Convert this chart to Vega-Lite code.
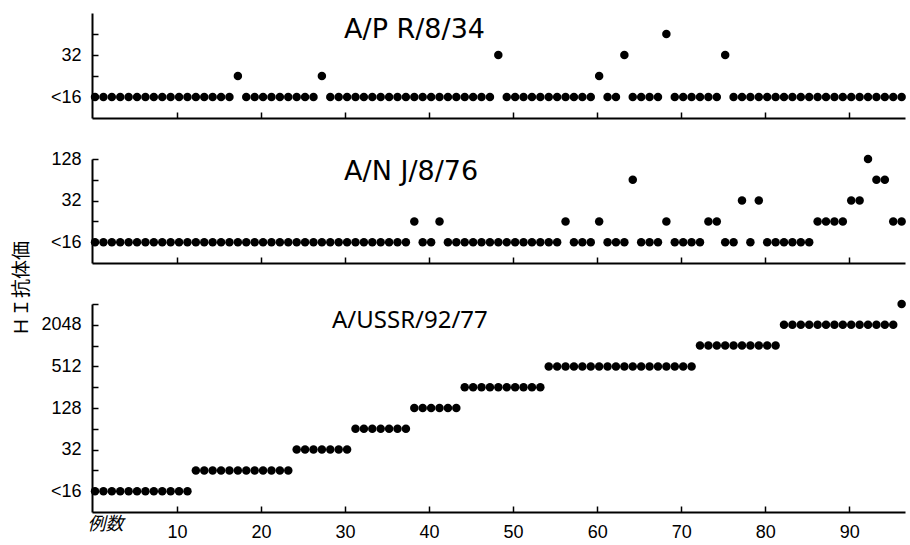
{
  "$schema": "https://vega.github.io/schema/vega-lite/v6.json",
  "background": "white",
  "padding": {"left": 12, "top": 13, "right": 2, "bottom": 4},
  "bounds": "flush",
  "spacing": 41,
  "resolve": {"scale": {"y": "independent"}},
  "data": {"values": [
    {"n":1,"pr":8,"nj":8,"ussr":8},{"n":2,"pr":8,"nj":8,"ussr":8},{"n":3,"pr":8,"nj":8,"ussr":8},{"n":4,"pr":8,"nj":8,"ussr":8},
    {"n":5,"pr":8,"nj":8,"ussr":8},{"n":6,"pr":8,"nj":8,"ussr":8},{"n":7,"pr":8,"nj":8,"ussr":8},{"n":8,"pr":8,"nj":8,"ussr":8},
    {"n":9,"pr":8,"nj":8,"ussr":8},{"n":10,"pr":8,"nj":8,"ussr":8},{"n":11,"pr":8,"nj":8,"ussr":8},{"n":12,"pr":8,"nj":8,"ussr":8},
    {"n":13,"pr":8,"nj":8,"ussr":16},{"n":14,"pr":8,"nj":8,"ussr":16},{"n":15,"pr":8,"nj":8,"ussr":16},{"n":16,"pr":8,"nj":8,"ussr":16},
    {"n":17,"pr":8,"nj":8,"ussr":16},{"n":18,"pr":16,"nj":8,"ussr":16},{"n":19,"pr":8,"nj":8,"ussr":16},{"n":20,"pr":8,"nj":8,"ussr":16},
    {"n":21,"pr":8,"nj":8,"ussr":16},{"n":22,"pr":8,"nj":8,"ussr":16},{"n":23,"pr":8,"nj":8,"ussr":16},{"n":24,"pr":8,"nj":8,"ussr":16},
    {"n":25,"pr":8,"nj":8,"ussr":32},{"n":26,"pr":8,"nj":8,"ussr":32},{"n":27,"pr":8,"nj":8,"ussr":32},{"n":28,"pr":16,"nj":8,"ussr":32},
    {"n":29,"pr":8,"nj":8,"ussr":32},{"n":30,"pr":8,"nj":8,"ussr":32},{"n":31,"pr":8,"nj":8,"ussr":32},{"n":32,"pr":8,"nj":8,"ussr":64},
    {"n":33,"pr":8,"nj":8,"ussr":64},{"n":34,"pr":8,"nj":8,"ussr":64},{"n":35,"pr":8,"nj":8,"ussr":64},{"n":36,"pr":8,"nj":8,"ussr":64},
    {"n":37,"pr":8,"nj":8,"ussr":64},{"n":38,"pr":8,"nj":8,"ussr":64},{"n":39,"pr":8,"nj":16,"ussr":128},{"n":40,"pr":8,"nj":8,"ussr":128},
    {"n":41,"pr":8,"nj":8,"ussr":128},{"n":42,"pr":8,"nj":16,"ussr":128},{"n":43,"pr":8,"nj":8,"ussr":128},{"n":44,"pr":8,"nj":8,"ussr":128},
    {"n":45,"pr":8,"nj":8,"ussr":256},{"n":46,"pr":8,"nj":8,"ussr":256},{"n":47,"pr":8,"nj":8,"ussr":256},{"n":48,"pr":8,"nj":8,"ussr":256},
    {"n":49,"pr":32,"nj":8,"ussr":256},{"n":50,"pr":8,"nj":8,"ussr":256},{"n":51,"pr":8,"nj":8,"ussr":256},{"n":52,"pr":8,"nj":8,"ussr":256},
    {"n":53,"pr":8,"nj":8,"ussr":256},{"n":54,"pr":8,"nj":8,"ussr":256},{"n":55,"pr":8,"nj":8,"ussr":512},{"n":56,"pr":8,"nj":8,"ussr":512},
    {"n":57,"pr":8,"nj":16,"ussr":512},{"n":58,"pr":8,"nj":8,"ussr":512},{"n":59,"pr":8,"nj":8,"ussr":512},{"n":60,"pr":8,"nj":8,"ussr":512},
    {"n":61,"pr":16,"nj":16,"ussr":512},{"n":62,"pr":8,"nj":8,"ussr":512},{"n":63,"pr":8,"nj":8,"ussr":512},{"n":64,"pr":32,"nj":8,"ussr":512},
    {"n":65,"pr":8,"nj":64,"ussr":512},{"n":66,"pr":8,"nj":8,"ussr":512},{"n":67,"pr":8,"nj":8,"ussr":512},{"n":68,"pr":8,"nj":8,"ussr":512},
    {"n":69,"pr":64,"nj":16,"ussr":512},{"n":70,"pr":8,"nj":8,"ussr":512},{"n":71,"pr":8,"nj":8,"ussr":512},{"n":72,"pr":8,"nj":8,"ussr":512},
    {"n":73,"pr":8,"nj":8,"ussr":1024},{"n":74,"pr":8,"nj":16,"ussr":1024},{"n":75,"pr":8,"nj":16,"ussr":1024},{"n":76,"pr":32,"nj":8,"ussr":1024},
    {"n":77,"pr":8,"nj":8,"ussr":1024},{"n":78,"pr":8,"nj":32,"ussr":1024},{"n":79,"pr":8,"nj":8,"ussr":1024},{"n":80,"pr":8,"nj":32,"ussr":1024},
    {"n":81,"pr":8,"nj":8,"ussr":1024},{"n":82,"pr":8,"nj":8,"ussr":1024},{"n":83,"pr":8,"nj":8,"ussr":2048},{"n":84,"pr":8,"nj":8,"ussr":2048},
    {"n":85,"pr":8,"nj":8,"ussr":2048},{"n":86,"pr":8,"nj":8,"ussr":2048},{"n":87,"pr":8,"nj":16,"ussr":2048},{"n":88,"pr":8,"nj":16,"ussr":2048},
    {"n":89,"pr":8,"nj":16,"ussr":2048},{"n":90,"pr":8,"nj":16,"ussr":2048},{"n":91,"pr":8,"nj":32,"ussr":2048},{"n":92,"pr":8,"nj":32,"ussr":2048},
    {"n":93,"pr":8,"nj":128,"ussr":2048},{"n":94,"pr":8,"nj":64,"ussr":2048},{"n":95,"pr":8,"nj":64,"ussr":2048},{"n":96,"pr":8,"nj":16,"ussr":2048},
    {"n":97,"pr":8,"nj":16,"ussr":4096}
  ]},
  "config": {
    "view": {"stroke": null},
    "axis": {
      "grid": false,
      "domainColor": "black",
      "domainWidth": 2,
      "tickColor": "black",
      "tickWidth": 1.5,
      "tickSize": -6,
      "labelColor": "black",
      "labelFont": "Liberation Sans",
      "labelFontSize": 18,
      "titleColor": "black"
    },
    "text": {"font": "DejaVu Sans", "fontSize": 27, "color": "black", "align": "left", "baseline": "alphabetic"}
  },
  "vconcat": [
    {
      "width": 813,
      "height": 105,
      "layer": [
        {
          "mark": {"type": "circle", "size": 72, "color": "black", "opacity": 1},
          "encoding": {
            "x": {"field": "n", "type": "quantitative", "scale": {"domain": [0.64, 97.4], "nice": false, "zero": false},
                  "axis": {"values": [10.76, 20.76, 30.76, 40.76, 50.76, 60.76, 70.76, 80.76, 90.76], "labels": false, "title": null}},
            "y": {"field": "pr", "type": "quantitative", "scale": {"type": "log", "base": 2, "domain": [4, 128], "nice": false},
                  "axis": {"values": [8, 16, 32, 64], "labelPadding": 17, "title": null,
                           "labelExpr": "datum.value == 8 ? '<16' : (datum.value == 32 || datum.value == 128 || datum.value == 512 || datum.value == 2048) ? '' + datum.value : ''"}}
          }
        },
        {
          "data": {"values": [{"label": "A/P R/8/34"}]},
          "mark": {"type": "text"},
          "encoding": {
            "x": {"datum": 30.64, "type": "quantitative"},
            "y": {"datum": 56, "type": "quantitative"},
            "text": {"field": "label"}
          }
        }
      ]
    },
    {
      "width": 813,
      "height": 104,
      "layer": [
        {
          "mark": {"type": "circle", "size": 72, "color": "black", "opacity": 1},
          "encoding": {
            "x": {"field": "n", "type": "quantitative", "scale": {"domain": [0.64, 97.4], "nice": false, "zero": false},
                  "axis": {"values": [10.76, 20.76, 30.76, 40.76, 50.76, 60.76, 70.76, 80.76, 90.76], "labels": false, "title": null}},
            "y": {"field": "nj", "type": "quantitative", "scale": {"type": "log", "base": 2, "domain": [4, 128], "nice": false},
                  "axis": {"values": [8, 16, 32, 64, 128], "labelPadding": 17, "title": null,
                           "labelExpr": "datum.value == 8 ? '<16' : (datum.value == 32 || datum.value == 128 || datum.value == 512 || datum.value == 2048) ? '' + datum.value : ''"}}
          }
        },
        {
          "data": {"values": [{"label": "A/N J/8/76"}]},
          "mark": {"type": "text"},
          "encoding": {
            "x": {"datum": 30.64, "type": "quantitative"},
            "y": {"datum": 64, "type": "quantitative"},
            "text": {"field": "label"}
          }
        }
      ]
    },
    {
      "width": 813,
      "height": 208,
      "layer": [
        {
          "mark": {"type": "circle", "size": 72, "color": "black", "opacity": 1},
          "encoding": {
            "x": {"field": "n", "type": "quantitative", "scale": {"domain": [0.64, 97.4], "nice": false, "zero": false},
                  "axis": {"values": [10.76, 20.76, 30.76, 40.76, 50.76, 60.76, 70.76, 80.76, 90.76], "labelPadding": 17,
                           "labelExpr": "format(datum.value - 0.76, 'd')",
                           "title": "例数", "titleX": 13, "titleY": 12, "titleAlign": "center", "titleBaseline": "middle",
                           "titleFont": "Noto Sans CJK JP", "titleFontSize": 18, "titleFontWeight": "normal", "titleFontStyle": "italic"}},
            "y": {"field": "ussr", "type": "quantitative", "scale": {"type": "log", "base": 2, "domain": [4, 4096], "nice": false},
                  "axis": {"values": [8, 16, 32, 64, 128, 256, 512, 1024, 2048, 4096], "labelPadding": 17,
                           "labelExpr": "datum.value == 8 ? '<16' : (datum.value == 32 || datum.value == 128 || datum.value == 512 || datum.value == 2048) ? '' + datum.value : ''",
                           "title": "ＨＩ抗体価", "titleX": -71, "titleY": -16, "titleAngle": -90, "titleAlign": "center", "titleBaseline": "middle",
                           "titleFont": "Noto Sans CJK JP", "titleFontSize": 19, "titleFontWeight": "normal"}}
          }
        },
        {
          "data": {"values": [{"label": "A/USSR/92/77"}]},
          "mark": {"type": "text", "font": "Noto Sans", "fontSize": 24},
          "encoding": {
            "x": {"datum": 29.2, "type": "quantitative"},
            "y": {"datum": 1860, "type": "quantitative"},
            "text": {"field": "label"}
          }
        }
      ]
    }
  ]
}
